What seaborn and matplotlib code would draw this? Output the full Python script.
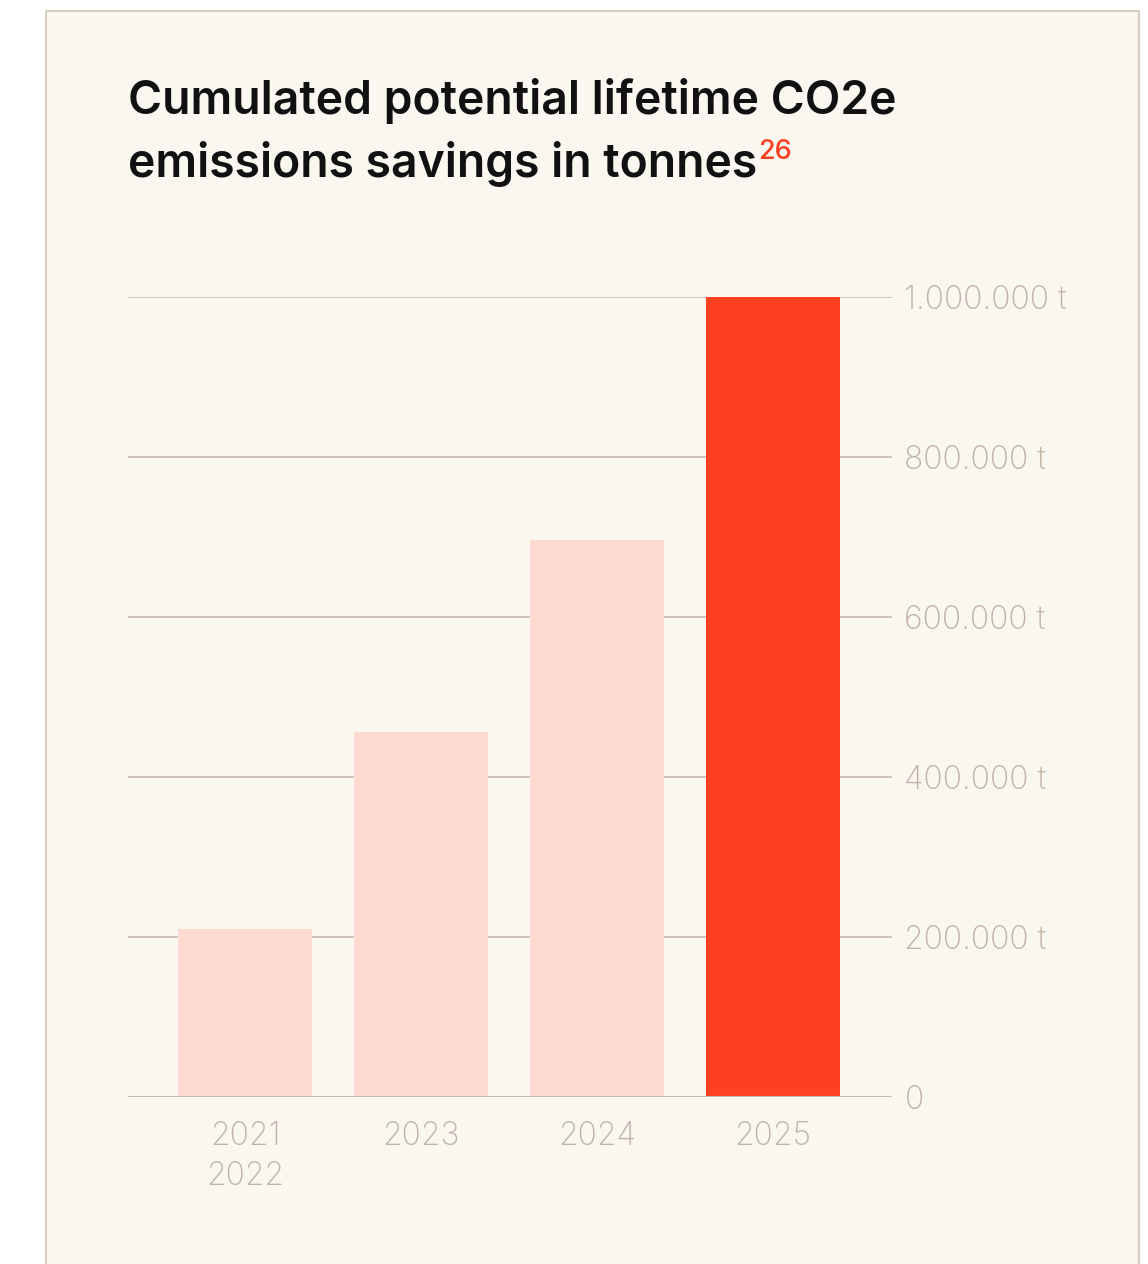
import numpy as np
import matplotlib
matplotlib.use("Agg")
import matplotlib.pyplot as plt
import seaborn as sns
from matplotlib.patches import Rectangle

# data
years = ["2021\n2022", "2023", "2024", "2025"]
savings = [210000, 456000, 696000, 1000000]
bar_colors = ["#FCDAD2", "#FCDAD2", "#FCDAD2", "#FF4020"]
yticks = [0, 200000, 400000, 600000, 800000, 1000000]
ytick_labels = ["0", "200.000 t", "400.000 t", "600.000 t", "800.000 t", "1.000.000 t"]

W, H = 1148, 1264
panel_bg = "#FAF7F1"
grid_col = "#C9BCAF"
label_col = "#C1B2A4"

sns.set_theme(style="white")
plt.rcParams["font.family"] = ["Inter", "DejaVu Sans"]

fig = plt.figure(figsize=(W / 100, H / 100), dpi=100)
fig.patch.set_facecolor("white")

# card behind the chart
fig.patches.append(Rectangle((46 / W, -0.05), (1139 - 46) / W, (H - 11) / H + 0.05,
                             transform=fig.transFigure, facecolor=panel_bg,
                             edgecolor="#D6CDC3", linewidth=1.5, zorder=-10))

ax = fig.add_axes([128 / W, (H - 1097) / H, (892 - 128) / W, 800 / H])
ax.set_facecolor("none")
ax.set_zorder(5)

sns.barplot(x=years, y=savings, hue=years, palette=bar_colors, legend=False,
            width=0.761, saturation=1, linewidth=0, ax=ax, zorder=2)

ax.set_xlim(-0.665, 3.676)
ax.set_ylim(0, 1000000)
ax.set_yticks(yticks)
ax.set_yticklabels(ytick_labels)
ax.yaxis.tick_right()
ax.grid(axis="y", color=grid_col, linewidth=1.2, zorder=1)
ax.set_axisbelow(True)
ax.axhline(0, color=grid_col, linewidth=1.5, zorder=3)
for s in ax.spines.values():
    s.set_visible(False)
ax.tick_params(axis="y", length=0, pad=9, labelsize=23, labelcolor=label_col)
ax.tick_params(axis="x", length=0, pad=17, labelsize=23, labelcolor=label_col)
for t in ax.get_yticklabels() + ax.get_xticklabels():
    t.set_fontweight("light")
for t in ax.get_xticklabels():
    t.set_linespacing(1.38)
ax.set_xlabel("")
ax.set_ylabel("")

# title in two lines with a red footnote mark
fig.text(128 / W, (H - 114) / H, "Cumulated potential lifetime CO2e",
         fontsize=33.3, fontweight="semibold", color="#111111", va="baseline", zorder=6)
t2 = fig.text(128 / W, (H - 177) / H, "emissions savings in tonnes",
              fontsize=33.3, fontweight="semibold", color="#111111", va="baseline", zorder=6)
fig.canvas.draw()
bb = t2.get_window_extent()
fig.text((bb.x1 + 1) / W, (H - 139) / H, "26", fontsize=19.5, fontweight="medium",
         color="#FF4020", va="top", ha="left", zorder=6)

fig.savefig("out.png", dpi=100, facecolor=fig.get_facecolor())
